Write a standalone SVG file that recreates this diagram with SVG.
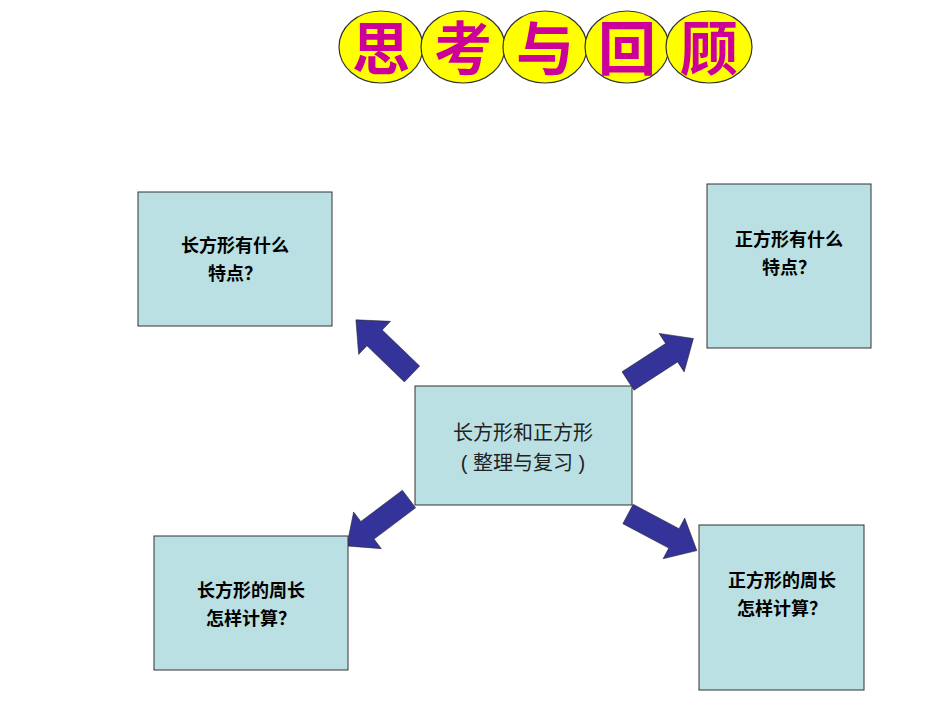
<svg xmlns="http://www.w3.org/2000/svg" width="950" height="713" viewBox="0 0 950 713">
<style>
.e{fill:#FFFF00;stroke:#333;stroke-width:1.2}
.t{font-family:"Noto Sans CJK SC",serif;font-size:58px;fill:#CC0099;text-anchor:middle;font-weight:bold}
.b{fill:#BBE0E3;stroke:#333;stroke-width:1}
.l{font-family:"Liberation Sans","Noto Sans CJK SC",sans-serif;font-size:18px;font-weight:bold;text-anchor:middle;fill:#000}
.c{font-family:"Liberation Sans","Noto Sans CJK SC",sans-serif;font-size:20px;text-anchor:middle;fill:#222}
.a{fill:#333399;stroke:#222;stroke-width:0.5}
</style>
<defs><polygon id="arr" points="0,-11 52,-11 52,-23 78,0 52,23 52,11 0,11"/></defs>
<g id="title">
<ellipse class="e" cx="381" cy="47" rx="42" ry="36"/><ellipse class="e" cx="463" cy="47" rx="42" ry="36"/><ellipse class="e" cx="545" cy="47" rx="42" ry="36"/><ellipse class="e" cx="627" cy="47" rx="42" ry="36"/><ellipse class="e" cx="709" cy="47" rx="43" ry="36"/>
<text class="t" x="381" y="70">思</text><text class="t" x="463" y="70">考</text><text class="t" x="545" y="70">与</text><text class="t" x="627" y="70">回</text><text class="t" x="709" y="70">顾</text>
</g>
<g id="connectors">
<use href="#arr" class="a" transform="translate(412,374) rotate(-136)"/>
<use href="#arr" class="a" transform="translate(628,381) rotate(-33)"/>
<use href="#arr" class="a" transform="translate(409,499) rotate(143)"/>
<use href="#arr" class="a" transform="translate(628,514) rotate(28)"/>
</g>
<g id="center"><rect class="b" x="415" y="386" width="217" height="119"/><text class="c" x="523" y="440">长方形和正方形</text><text class="c" x="523" y="470">( 整理与复习 )</text></g>
<g id="tl"><rect class="b" x="138" y="192" width="194" height="134"/><text class="l" x="235" y="252">长方形有什么</text><text class="l" x="235" y="280">特点？</text></g>
<g id="tr"><rect class="b" x="707" y="184" width="164" height="164"/><text class="l" x="789" y="246">正方形有什么</text><text class="l" x="789" y="274">特点？</text></g>
<g id="bl"><rect class="b" x="154" y="536" width="194" height="134"/><text class="l" x="251" y="597">长方形的周长</text><text class="l" x="251" y="625">怎样计算？</text></g>
<g id="br"><rect class="b" x="699" y="525" width="165" height="165"/><text class="l" x="782" y="587">正方形的周长</text><text class="l" x="782" y="615">怎样计算？</text></g>
</svg>
